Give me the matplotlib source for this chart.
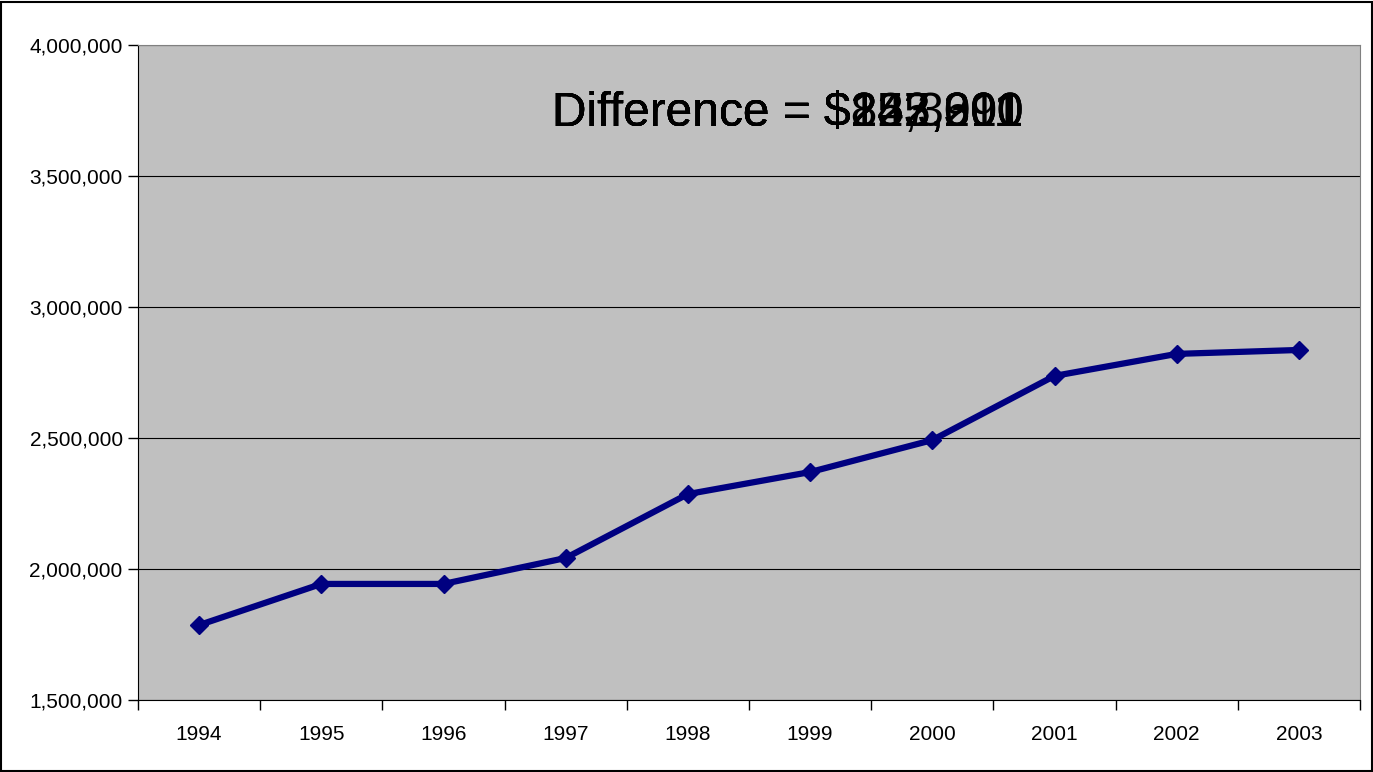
import matplotlib.pyplot as plt
from matplotlib.ticker import FuncFormatter, MultipleLocator

plt.rcParams['font.family'] = ['Liberation Sans', 'DejaVu Sans']

years = ['1994', '1995', '1996', '1997', '1998', '1999', '2000', '2001', '2002', '2003']
totals = [1786000, 1943000, 1943000, 2042000, 2286000, 2370000, 2492000, 2737000, 2821000, 2836000]
# several difference labels were written on top of each other in the same spot
difference_labels = ['$243,300', '$153,911', '$85,300', '$122,600', '$245,201', '$257,390']

fig = plt.figure(figsize=(13.73, 7.72), dpi=100)
ax = fig.add_axes([138 / 1373, 1 - 700 / 772, (1360 - 138) / 1373, (700 - 45) / 772])
fig.patches.append(plt.Rectangle((0.001, 0.001), 0.998, 0.997, transform=fig.transFigure,
                                 fill=False, edgecolor='black', linewidth=1.5))

ax.set_facecolor('#C0C0C0')
x = range(len(years))
ax.plot(x, totals, color='#000080', linewidth=4.5, marker='D', markersize=9, zorder=3)

ax.set_xlim(-0.5, len(years) - 0.5)
ax.set_ylim(1500000, 4000000)
ax.yaxis.set_major_locator(MultipleLocator(500000))
ax.yaxis.set_major_formatter(FuncFormatter(lambda v, p: f'{v:,.0f}'))
ax.grid(axis='y', color='black', linewidth=0.8)
ax.set_axisbelow(True)

ax.set_xticks(list(x))
ax.set_xticklabels(years)
ax.set_xticks([i - 0.5 for i in range(len(years) + 1)], minor=True)
ax.tick_params(axis='x', which='major', length=0, pad=18, labelsize=15)
ax.tick_params(axis='x', which='minor', length=7, width=1, direction='out')
ax.tick_params(axis='y', length=7, width=1, direction='out', pad=4, labelsize=15)

for side in ['top', 'right']:
    ax.spines[side].set_color('#808080')
for side in ['left', 'bottom']:
    ax.spines[side].set_color('black')

for label in difference_labels:
    ax.text(0.339, 0.895, 'Difference = ' + label, transform=ax.transAxes,
            fontsize=34.5, ha='left', va='center', color='black')

fig.savefig('out.png', dpi=100)
